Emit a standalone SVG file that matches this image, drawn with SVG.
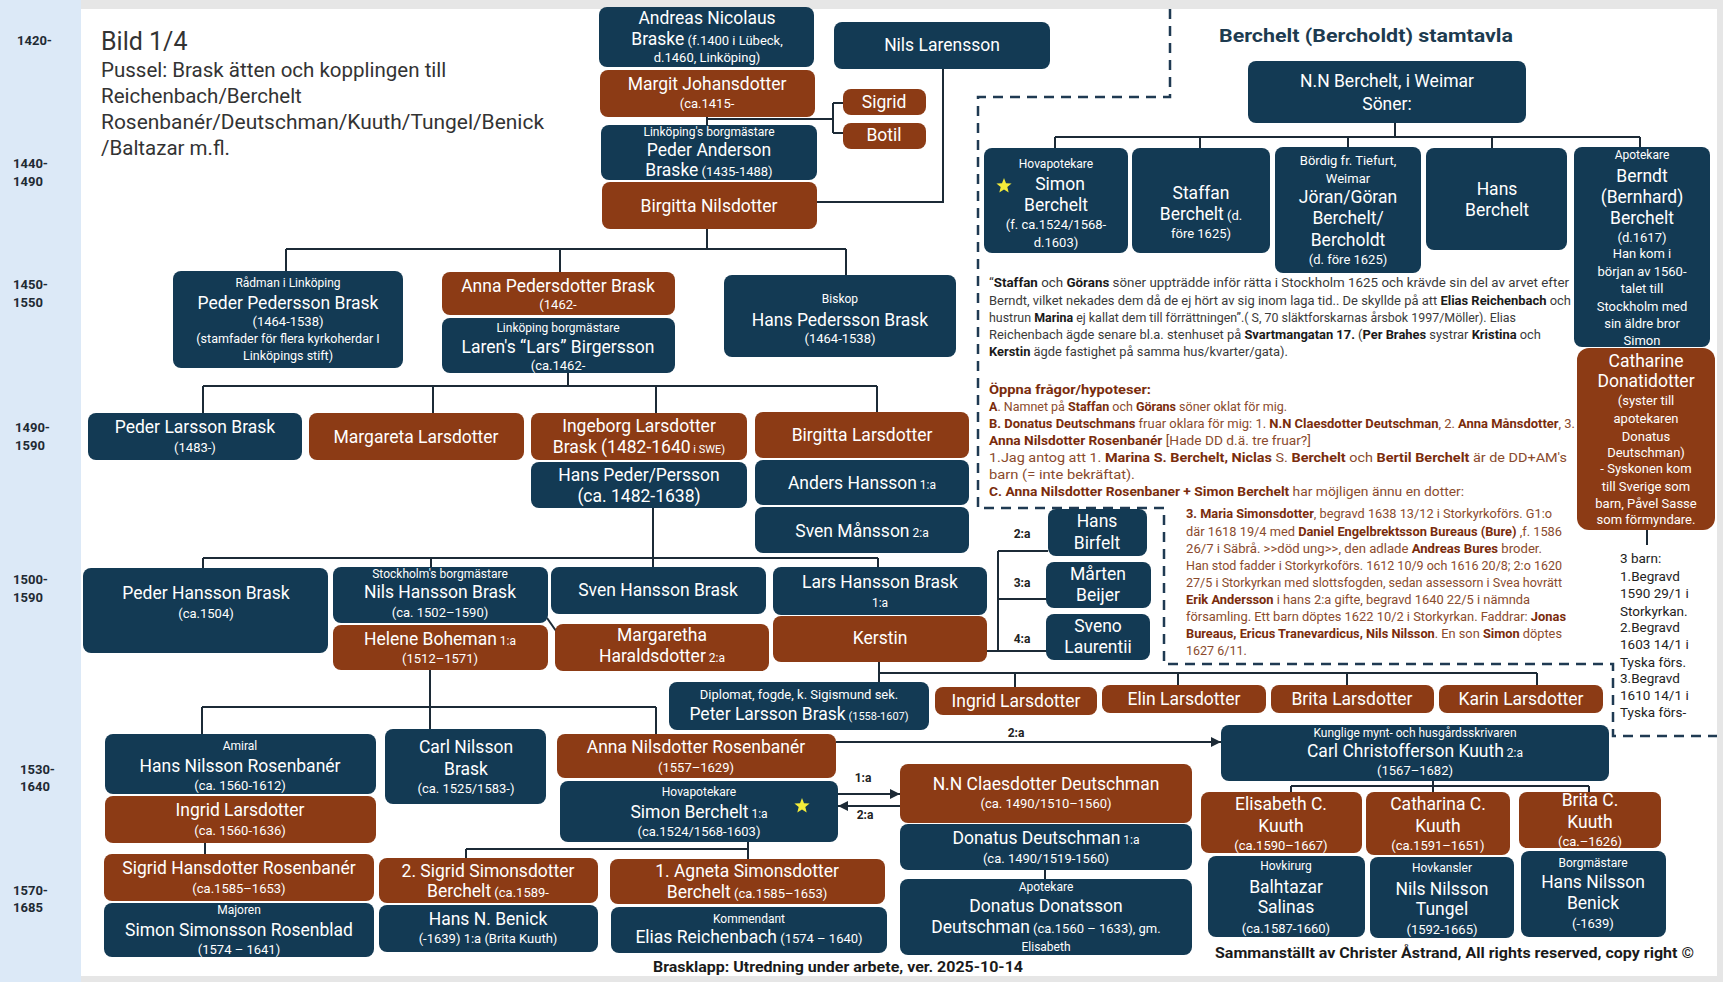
<svg xmlns="http://www.w3.org/2000/svg" width="1723" height="982" viewBox="0 0 1723 982">
<defs>
<style>
text{font-family:Roboto,"Liberation Sans",Arial,sans-serif}
.w{fill:#fff;text-anchor:middle}
.nm{font-size:17.5px}
.sm{font-size:12px}
.dt{font-size:13px}
.xs{font-size:11.5px}
rect.n{fill:#133a54;rx:8px;ry:8px}
rect.b{fill:#8c3b15;rx:8px;ry:8px}
.ln{stroke:#1c2a36;stroke-width:2;fill:none}
.dash{stroke:#1f3a52;stroke-width:2.5;stroke-dasharray:10 7;fill:none}
.tl{font-size:13px;font-weight:bold;fill:#1f2a33}
.lbl{font-size:12px;font-weight:bold;fill:#222;text-anchor:middle}
.ttl{fill:#333;font-weight:400}
.note{font-size:12.5px;fill:#3a3a3a}
.nb{font-weight:bold;fill:#1a1a1a}
.br{font-size:12.5px;fill:#8a4a2c}
.brb{font-weight:bold;fill:#7a2c0c}
.barn{font-size:13.5px;fill:#222}
.foot{font-size:15.5px;font-weight:bold;fill:#1a1a1a}
</style>
<marker id="arr" viewBox="0 0 10 10" refX="10" refY="5" markerWidth="10" markerHeight="10" markerUnits="userSpaceOnUse" orient="auto"><path d="M0,0 L10,5 L0,10 z" fill="#1c2a36"/></marker>
<polygon id="star" points="0,-8 2,-2.8 7.6,-2.5 3.3,1.1 4.7,6.5 0,3.4 -4.7,6.5 -3.3,1.1 -7.6,-2.5 -2,-2.8" fill="#f3ec3a"/>
</defs>

<!-- background -->
<rect x="0" y="0" width="1723" height="982" fill="#e6e6e6"/>
<rect x="0" y="0" width="81" height="982" fill="#dce9f7"/>
<rect x="81" y="9" width="1636" height="967" fill="#ffffff"/>

<!-- timeline -->
<g id="timeline">
<text class="tl" x="17" y="45">1420-</text>
<text class="tl" x="13" y="168">1440-</text><text class="tl" x="13" y="186">1490</text>
<text class="tl" x="13" y="289">1450-</text><text class="tl" x="13" y="307">1550</text>
<text class="tl" x="15" y="432">1490-</text><text class="tl" x="15" y="450">1590</text>
<text class="tl" x="13" y="584">1500-</text><text class="tl" x="13" y="602">1590</text>
<text class="tl" x="20" y="774">1530-</text><text class="tl" x="20" y="791">1640</text>
<text class="tl" x="13" y="895">1570-</text><text class="tl" x="13" y="912">1685</text>
</g>

<!-- title -->
<g id="title">
<text class="ttl" x="101" y="50" font-size="25">Bild 1/4</text>
<text class="ttl" x="101" y="77" font-size="20.5">Pussel: Brask ätten och kopplingen till</text>
<text class="ttl" x="101" y="103" font-size="20.5">Reichenbach/Berchelt</text>
<text class="ttl" x="101" y="129" font-size="20.5" textLength="443" lengthAdjust="spacingAndGlyphs">Rosenbanér/Deutschman/Kuuth/Tungel/Benick</text>
<text class="ttl" x="101" y="155" font-size="20.5">/Baltazar m.fl.</text>
</g>

<!-- dashed frame -->
<path class="dash" d="M1170,9 V97 H978 V508 H1164 V664 H1613 V736 H1717"/>

<!-- connectors -->
<g id="connectors">
<path class="ln" d="M707,117 V125 M707,119 H833 M833,103 V133 M833,103 H843 M833,133 H843"/>
<path class="ln" d="M943,69 V202 H817"/>
<path class="ln" d="M707,229 V249 M286,249 H846 M286,249 V271 M560,249 V272 M846,249 V275"/>
<path class="ln" d="M568,373 V386 M203,386 H877 M203,386 V413 M433,386 V413 M656,386 V413 M877,386 V412"/>
<path class="ln" d="M653,508 V567 M203,558 H878 M203,558 V568 M431,558 V567 M878,558 V567"/>
<path class="ln" d="M547,618 L568,648" stroke-width="1.6"/>
<path class="ln" d="M987,651 H1046 M998,551 V651 M998,551 H1048 M998,599 H1046"/>
<path class="ln" d="M879,662 V682 M879,673 H1537 M1015,673 V687 M1178,673 V685 M1347,673 V685 M1537,673 V685"/>
<path class="ln" d="M430,670 V729 M202,707 H656 M202,707 V734 M656,707 V734"/>
<path class="ln" d="M836,742 H1221" marker-end="url(#arr)"/>
<path class="ln" d="M838,794 H900" marker-end="url(#arr)"/>
<path class="ln" d="M900,806 H838" marker-end="url(#arr)"/>
<path class="ln" d="M748,842 V859 M466,849 H748 M466,849 V858"/>
<path class="ln" d="M205,843 V854"/>
<path class="ln" d="M1045,870 V879"/>
<path class="ln" d="M1433,781 V792 M1291,786 H1589 M1291,786 V792 M1589,786 V792"/>
<path class="ln" d="M1395,123 V137 M1055,137 H1640 M1055,137 V148 M1200,137 V148 M1348,137 V147 M1492,137 V148 M1640,137 V147"/>
<path class="ln" d="M1647,530 V545"/>
<text class="lbl" x="1022" y="538">2:a</text>
<text class="lbl" x="1022" y="587">3:a</text>
<text class="lbl" x="1022" y="643">4:a</text>
<text class="lbl" x="1016" y="737">2:a</text>
<text class="lbl" x="863" y="782">1:a</text>
<text class="lbl" x="865" y="819">2:a</text>
</g>

<!-- top nodes -->
<g id="andreas"><rect class="n" x="599" y="7" width="215" height="60"/>
<text class="w nm" x="707" y="24">Andreas Nicolaus</text>
<text class="w nm" x="707" y="45">Braske<tspan class="dt"> (f.1400 i Lübeck,</tspan></text>
<text class="w dt" x="707" y="62">d.1460, Linköping)</text></g>
<g id="margit"><rect class="b" x="600" y="70" width="215" height="47"/>
<text class="w nm" x="707" y="90">Margit Johansdotter</text>
<text class="w dt" x="707" y="108">(ca.1415-</text></g>
<g id="peder_anderson"><rect class="n" x="601" y="125" width="216" height="55"/>
<text class="w sm" x="709" y="136">Linköping's borgmästare</text>
<text class="w nm" x="709" y="156">Peder Anderson</text>
<text class="w nm" x="709" y="176">Braske<tspan class="dt"> (1435-1488)</tspan></text></g>
<g id="birgitta_n"><rect class="b" x="602" y="182" width="215" height="47"/>
<text class="w nm" x="709" y="212">Birgitta Nilsdotter</text></g>
<g id="nils_larensson"><rect class="n" x="834" y="22" width="216" height="47"/>
<text class="w nm" x="942" y="51">Nils Larensson</text></g>
<g id="sigrid"><rect class="b" x="843" y="89" width="83" height="26"/>
<text class="w nm" x="884" y="108">Sigrid</text></g>
<g id="botil"><rect class="b" x="843" y="123" width="83" height="26"/>
<text class="w nm" x="884" y="141">Botil</text></g>

<!-- 1450-1550 -->
<g id="peder_pedersson"><rect class="n" x="173" y="271" width="230" height="97"/>
<text class="w sm" x="288" y="287">Rådman i Linköping</text>
<text class="w nm" x="288" y="309">Peder Pedersson Brask</text>
<text class="w dt" x="288" y="326">(1464-1538)</text>
<text class="w" x="288" y="343" font-size="12.5">(stamfader för flera kyrkoherdar I</text>
<text class="w" x="288" y="360" font-size="12.5">Linköpings stift)</text></g>
<g id="anna_pedersdotter"><rect class="b" x="442" y="272" width="233" height="43"/>
<text class="w nm" x="558" y="292">Anna Pedersdotter Brask</text>
<text class="w dt" x="558" y="309">(1462-</text></g>
<g id="laren"><rect class="n" x="442" y="318" width="233" height="55"/>
<text class="w sm" x="558" y="332">Linköping borgmästare</text>
<text class="w nm" x="558" y="353">Laren's “Lars” Birgersson</text>
<text class="w dt" x="558" y="370">(ca.1462-</text></g>
<g id="hans_pedersson"><rect class="n" x="724" y="275" width="232" height="82"/>
<text class="w sm" x="840" y="303">Biskop</text>
<text class="w nm" x="840" y="326">Hans Pedersson Brask</text>
<text class="w dt" x="840" y="343">(1464-1538)</text></g>

<!-- 1490-1590 -->
<g id="peder_larsson"><rect class="n" x="88" y="413" width="214" height="47"/>
<text class="w nm" x="195" y="433">Peder Larsson Brask</text>
<text class="w dt" x="195" y="452">(1483-)</text></g>
<g id="margareta_l"><rect class="b" x="309" y="413" width="215" height="47"/>
<text class="w nm" x="416" y="443">Margareta Larsdotter</text></g>
<g id="ingeborg"><rect class="b" x="531" y="413" width="216" height="47"/>
<text class="w nm" x="639" y="432">Ingeborg Larsdotter</text>
<text class="w nm" x="639" y="453">Brask (1482-1640<tspan font-size="11"> i SWE)</tspan></text></g>
<g id="hans_peder"><rect class="n" x="531" y="462" width="216" height="46"/>
<text class="w nm" x="639" y="481">Hans Peder/Persson</text>
<text class="w nm" x="639" y="502">(ca. 1482-1638)</text></g>
<g id="birgitta_l"><rect class="b" x="755" y="412" width="214" height="46"/>
<text class="w nm" x="862" y="441">Birgitta Larsdotter</text></g>
<g id="anders"><rect class="n" x="755" y="460" width="214" height="45"/>
<text class="w nm" x="862" y="489">Anders Hansson<tspan class="sm"> 1:a</tspan></text></g>
<g id="sven_mansson"><rect class="n" x="755" y="507" width="214" height="46"/>
<text class="w nm" x="862" y="537">Sven Månsson<tspan class="sm"> 2:a</tspan></text></g>

<!-- 1500-1590 -->
<g id="peder_hansson"><rect class="n" x="83" y="568" width="245" height="85"/>
<text class="w nm" x="206" y="599">Peder Hansson Brask</text>
<text class="w dt" x="206" y="618">(ca.1504)</text></g>
<g id="nils_hansson"><rect class="n" x="333" y="567" width="215" height="56"/>
<text class="w sm" x="440" y="578">Stockholm's borgmästare</text>
<text class="w nm" x="440" y="598">Nils Hansson Brask</text>
<text class="w dt" x="440" y="617">(ca. 1502–1590)</text></g>
<g id="helene"><rect class="b" x="333" y="625" width="215" height="45"/>
<text class="w nm" x="440" y="645">Helene Boheman<tspan class="sm"> 1:a</tspan></text>
<text class="w dt" x="440" y="663">(1512–1571)</text></g>
<g id="sven_hansson"><rect class="n" x="551" y="567" width="215" height="47"/>
<text class="w nm" x="658" y="596">Sven Hansson Brask</text></g>
<g id="margaretha_h"><rect class="b" x="555" y="624" width="214" height="47"/>
<text class="w nm" x="662" y="641">Margaretha</text>
<text class="w nm" x="662" y="662">Haraldsdotter<tspan class="sm"> 2:a</tspan></text></g>
<g id="lars_hansson"><rect class="n" x="773" y="567" width="214" height="48"/>
<text class="w nm" x="880" y="588">Lars Hansson Brask</text>
<text class="w sm" x="880" y="607">1:a</text></g>
<g id="kerstin"><rect class="b" x="773" y="616" width="214" height="46"/>
<text class="w nm" x="880" y="644">Kerstin</text></g>
<g id="hans_birfelt"><rect class="n" x="1048" y="509" width="99" height="47"/>
<text class="w nm" x="1097" y="527">Hans</text>
<text class="w nm" x="1097" y="549">Birfelt</text></g>
<g id="marten_beijer"><rect class="n" x="1046" y="562" width="105" height="46"/>
<text class="w nm" x="1098" y="580">Mårten</text>
<text class="w nm" x="1098" y="601">Beijer</text></g>
<g id="sveno"><rect class="n" x="1046" y="614" width="104" height="46"/>
<text class="w nm" x="1098" y="632">Sveno</text>
<text class="w nm" x="1098" y="653">Laurentii</text></g>

<!-- Kerstin children -->
<g id="peter_larsson"><rect class="n" x="669" y="682" width="260" height="48"/>
<text class="w dt" x="799" y="699">Diplomat, fogde, k. Sigismund sek.</text>
<text class="w nm" x="799" y="720">Peter Larsson Brask<tspan font-size="11"> (1558-1607)</tspan></text></g>
<g id="ingrid_l2"><rect class="b" x="935" y="687" width="162" height="28"/>
<text class="w nm" x="1016" y="707">Ingrid Larsdotter</text></g>
<g id="elin"><rect class="b" x="1102" y="685" width="164" height="28"/>
<text class="w nm" x="1184" y="705">Elin Larsdotter</text></g>
<g id="brita_l"><rect class="b" x="1271" y="685" width="163" height="28"/>
<text class="w nm" x="1352" y="705">Brita Larsdotter</text></g>
<g id="karin"><rect class="b" x="1439" y="685" width="164" height="28"/>
<text class="w nm" x="1521" y="705">Karin Larsdotter</text></g>

<!-- 1530-1640 -->
<g id="hans_nilsson_r"><rect class="n" x="105" y="734" width="271" height="60"/>
<text class="w sm" x="240" y="750">Amiral</text>
<text class="w nm" x="240" y="772">Hans Nilsson Rosenbanér</text>
<text class="w dt" x="240" y="790">(ca. 1560-1612)</text></g>
<g id="ingrid_l"><rect class="b" x="105" y="796" width="271" height="47"/>
<text class="w nm" x="240" y="816">Ingrid Larsdotter</text>
<text class="w dt" x="240" y="835">(ca. 1560-1636)</text></g>
<g id="carl_nilsson"><rect class="n" x="385" y="729" width="161" height="75"/>
<text class="w nm" x="466" y="753">Carl Nilsson</text>
<text class="w nm" x="466" y="775">Brask</text>
<text class="w dt" x="466" y="793">(ca. 1525/1583-)</text></g>
<g id="anna_nilsdotter"><rect class="b" x="557" y="734" width="279" height="44"/>
<text class="w nm" x="696" y="753">Anna Nilsdotter Rosenbanér</text>
<text class="w dt" x="696" y="772">(1557–1629)</text></g>
<g id="simon_berchelt"><rect class="n" x="560" y="781" width="278" height="61"/>
<text class="w sm" x="699" y="796">Hovapotekare</text>
<text class="w nm" x="699" y="818">Simon Berchelt<tspan class="sm"> 1:a</tspan></text>
<text class="w dt" x="699" y="836">(ca.1524/1568-1603)</text>
<use href="#star" x="802" y="806"/></g>
<g id="nn_claesdotter"><rect class="b" x="900" y="764" width="292" height="59"/>
<text class="w nm" x="1046" y="790">N.N Claesdotter Deutschman</text>
<text class="w dt" x="1046" y="808">(ca. 1490/1510–1560)</text></g>
<g id="donatus"><rect class="n" x="900" y="824" width="292" height="46"/>
<text class="w nm" x="1046" y="844">Donatus Deutschman<tspan class="sm"> 1:a</tspan></text>
<text class="w dt" x="1046" y="863">(ca. 1490/1519-1560)</text></g>
<g id="donatus_donatsson"><rect class="n" x="900" y="879" width="292" height="76"/>
<text class="w sm" x="1046" y="891">Apotekare</text>
<text class="w nm" x="1046" y="912">Donatus Donatsson</text>
<text class="w nm" x="1046" y="933">Deutschman<tspan class="dt"> (ca.1560 – 1633), gm.</tspan></text>
<text class="w sm" x="1046" y="951">Elisabeth</text></g>
<g id="carl_kuuth"><rect class="n" x="1221" y="725" width="388" height="56"/>
<text class="w sm" x="1415" y="737">Kunglige mynt- och husgårdsskrivaren</text>
<text class="w nm" x="1415" y="757">Carl Christofferson Kuuth<tspan class="sm"> 2:a</tspan></text>
<text class="w dt" x="1415" y="775">(1567–1682)</text></g>

<!-- 1570-1685 -->
<g id="sigrid_h"><rect class="b" x="104" y="854" width="270" height="47"/>
<text class="w nm" x="239" y="874">Sigrid Hansdotter Rosenbanér</text>
<text class="w dt" x="239" y="893">(ca.1585–1653)</text></g>
<g id="simon_rosenblad"><rect class="n" x="104" y="903" width="270" height="54"/>
<text class="w sm" x="239" y="914">Majoren</text>
<text class="w nm" x="239" y="936">Simon Simonsson Rosenblad</text>
<text class="w dt" x="239" y="954">(1574 – 1641)</text></g>
<g id="sigrid_s"><rect class="b" x="379" y="858" width="219" height="45"/>
<text class="w nm" x="488" y="877">2. Sigrid Simonsdotter</text>
<text class="w nm" x="488" y="897">Berchelt<tspan class="dt"> (ca.1589-</tspan></text></g>
<g id="hans_benick"><rect class="n" x="379" y="905" width="219" height="47"/>
<text class="w nm" x="488" y="925">Hans N. Benick</text>
<text class="w dt" x="488" y="943">(-1639)  1:a (Brita Kuuth)</text></g>
<g id="agneta"><rect class="b" x="610" y="859" width="275" height="45"/>
<text class="w nm" x="747" y="877">1. Agneta Simonsdotter</text>
<text class="w nm" x="747" y="898">Berchelt<tspan class="dt"> (ca.1585–1653)</tspan></text></g>
<g id="elias"><rect class="n" x="611" y="907" width="276" height="46"/>
<text class="w sm" x="749" y="923">Kommendant</text>
<text class="w nm" x="749" y="943">Elias Reichenbach<tspan class="dt"> (1574 – 1640)</tspan></text></g>
<g id="elisabeth_k"><rect class="b" x="1201" y="792" width="161" height="61"/>
<text class="w nm" x="1281" y="810">Elisabeth C.</text>
<text class="w nm" x="1281" y="832">Kuuth</text>
<text class="w dt" x="1281" y="850">(ca.1590–1667)</text></g>
<g id="catharina_k"><rect class="b" x="1366" y="792" width="144" height="63"/>
<text class="w nm" x="1438" y="810">Catharina C.</text>
<text class="w nm" x="1438" y="832">Kuuth</text>
<text class="w dt" x="1438" y="850">(ca.1591–1651)</text></g>
<g id="brita_k"><rect class="b" x="1519" y="792" width="142" height="56"/>
<text class="w nm" x="1590" y="806">Brita C.</text>
<text class="w nm" x="1590" y="828">Kuuth</text>
<text class="w dt" x="1590" y="846">(ca.–1626)</text></g>
<g id="balhtazar"><rect class="n" x="1208" y="856" width="157" height="81"/>
<text class="w sm" x="1286" y="870">Hovkirurg</text>
<text class="w nm" x="1286" y="893">Balhtazar</text>
<text class="w nm" x="1286" y="913">Salinas</text>
<text class="w dt" x="1286" y="933">(ca.1587-1660)</text></g>
<g id="tungel"><rect class="n" x="1370" y="857" width="144" height="81"/>
<text class="w sm" x="1442" y="872">Hovkansler</text>
<text class="w nm" x="1442" y="895">Nils Nilsson</text>
<text class="w nm" x="1442" y="915">Tungel</text>
<text class="w dt" x="1442" y="934">(1592-1665)</text></g>
<g id="benick"><rect class="n" x="1521" y="851" width="145" height="86"/>
<text class="w sm" x="1593" y="867">Borgmästare</text>
<text class="w nm" x="1593" y="888">Hans Nilsson</text>
<text class="w nm" x="1593" y="909">Benick</text>
<text class="w dt" x="1593" y="928">(-1639)</text></g>

<!-- Berchelt stamtavla -->
<text x="1219" y="42" font-size="18.5" font-weight="bold" fill="#1d3b50" textLength="294" lengthAdjust="spacingAndGlyphs">Berchelt (Bercholdt) stamtavla</text>
<g id="nn_berchelt"><rect class="n" x="1248" y="61" width="278" height="62"/>
<text class="w nm" x="1387" y="87">N.N Berchelt, i Weimar</text>
<text class="w nm" x="1387" y="110">Söner:</text></g>
<g id="simon_top"><rect class="n" x="984" y="148" width="144" height="105"/>
<text class="w sm" x="1056" y="168">Hovapotekare</text>
<text class="w nm" x="1060" y="190">Simon</text>
<text class="w nm" x="1056" y="211">Berchelt</text>
<text class="w dt" x="1056" y="229">(f. ca.1524/1568-</text>
<text class="w dt" x="1056" y="247">d.1603)</text>
<use href="#star" x="1004" y="186"/></g>
<g id="staffan"><rect class="n" x="1132" y="148" width="138" height="105"/>
<text class="w nm" x="1201" y="199">Staffan</text>
<text class="w nm" x="1201" y="220">Berchelt<tspan class="dt"> (d.</tspan></text>
<text class="w dt" x="1201" y="238">före 1625)</text></g>
<g id="joran"><rect class="n" x="1275" y="147" width="146" height="126"/>
<text class="w dt" x="1348" y="165">Bördig fr. Tiefurt,</text>
<text class="w dt" x="1348" y="183">Weimar</text>
<text class="w nm" x="1348" y="203">Jöran/Göran</text>
<text class="w nm" x="1348" y="224">Berchelt/</text>
<text class="w nm" x="1348" y="246">Bercholdt</text>
<text class="w dt" x="1348" y="264">(d. före 1625)</text></g>
<g id="hans_berchelt"><rect class="n" x="1426" y="148" width="141" height="102"/>
<text class="w nm" x="1497" y="195">Hans</text>
<text class="w nm" x="1497" y="216">Berchelt</text></g>
<g id="berndt"><rect class="n" x="1574" y="147" width="136" height="200"/>
<text class="w sm" x="1642" y="159">Apotekare</text>
<text class="w nm" x="1642" y="182">Berndt</text>
<text class="w nm" x="1642" y="203">(Bernhard)</text>
<text class="w nm" x="1642" y="224">Berchelt</text>
<text class="w dt" x="1642" y="242">(d.1617)</text>
<text class="w dt" x="1642" y="258">Han kom i</text>
<text class="w dt" x="1642" y="276">början av 1560-</text>
<text class="w dt" x="1642" y="293">talet till</text>
<text class="w dt" x="1642" y="311">Stockholm med</text>
<text class="w dt" x="1642" y="328">sin äldre bror</text>
<text class="w dt" x="1642" y="345">Simon</text></g>
<g id="catharine"><rect class="b" x="1577" y="348" width="138" height="182" style="rx:12px;ry:12px"/>
<text class="w nm" x="1646" y="367">Catharine</text>
<text class="w nm" x="1646" y="387">Donatidotter</text>
<text class="w dt" x="1646" y="405">(syster till</text>
<text class="w dt" x="1646" y="423">apotekaren</text>
<text class="w dt" x="1646" y="441">Donatus</text>
<text class="w dt" x="1646" y="457">Deutschman)</text>
<text class="w dt" x="1646" y="473">- Syskonen  kom</text>
<text class="w dt" x="1646" y="491">till Sverige som</text>
<text class="w dt" x="1646" y="508">barn, Påvel Sasse</text>
<text class="w dt" x="1646" y="524">som förmyndare.</text></g>

<!-- notes -->
<g id="notes">
<text class="note" x="989" y="287" textLength="580" lengthAdjust="spacingAndGlyphs">“<tspan class="nb">Staffan</tspan> och <tspan class="nb">Görans</tspan> söner uppträdde inför rätta i Stockholm 1625 och krävde sin del av arvet efter</text>
<text class="note" x="989" y="304.5" textLength="582" lengthAdjust="spacingAndGlyphs">Berndt, vilket nekades dem då de ej hört av sig inom laga tid.. De skyllde på att <tspan class="nb">Elias Reichenbach</tspan> och</text>
<text class="note" x="989" y="322" textLength="527" lengthAdjust="spacingAndGlyphs">hustrun <tspan class="nb">Marina</tspan> ej kallat dem till förrättningen”.( S, 70 släktforskarnas årsbok 1997/Möller). Elias</text>
<text class="note" x="989" y="339" textLength="552" lengthAdjust="spacingAndGlyphs">Reichenbach ägde senare bl.a. stenhuset på <tspan class="nb">Svartmangatan 17.</tspan> (<tspan class="nb">Per Brahes</tspan> systrar <tspan class="nb">Kristina</tspan> och</text>
<text class="note" x="989" y="356" textLength="299" lengthAdjust="spacingAndGlyphs"><tspan class="nb">Kerstin</tspan> ägde fastighet på samma hus/kvarter/gata).</text>

<text class="br" x="989" y="394" textLength="162" lengthAdjust="spacingAndGlyphs"><tspan class="brb">Öppna frågor/hypoteser:</tspan></text>
<text class="br" x="989" y="411" textLength="298" lengthAdjust="spacingAndGlyphs"><tspan class="brb">A</tspan>. Namnet på <tspan class="brb">Staffan</tspan> och <tspan class="brb">Görans</tspan> söner oklat för mig.</text>
<text class="br" x="989" y="428" textLength="586" lengthAdjust="spacingAndGlyphs"><tspan class="brb">B. Donatus  Deutschmans</tspan> fruar oklara för mig: 1. <tspan class="brb">N.N Claesdotter Deutschman</tspan>, 2. <tspan class="brb">Anna Månsdotter</tspan>, 3.</text>
<text class="br" x="989" y="445" textLength="322" lengthAdjust="spacingAndGlyphs"><tspan class="brb">Anna Nilsdotter Rosenbanér</tspan> [Hade DD d.ä. tre fruar?]</text>
<text class="br" x="989" y="462" textLength="578" lengthAdjust="spacingAndGlyphs">1.Jag antog att  1. <tspan class="brb">Marina S. Berchelt, Niclas</tspan> S. <tspan class="brb">Berchelt</tspan> och <tspan class="brb">Bertil Berchelt</tspan> är de DD+AM's</text>
<text class="br" x="989" y="479" textLength="146" lengthAdjust="spacingAndGlyphs">barn (= inte bekräftat).</text>
<text class="br" x="989" y="496" textLength="475" lengthAdjust="spacingAndGlyphs"><tspan class="brb">C. Anna Nilsdotter Rosenbaner + Simon Berchelt</tspan> har möjligen ännu en dotter:</text>

<text class="br" x="1186" y="518" textLength="366" lengthAdjust="spacingAndGlyphs"><tspan class="brb">3. Maria Simonsdotter</tspan>, begravd 1638 13/12 i Storkyrkoförs. G1:o</text>
<text class="br" x="1186" y="536" textLength="376" lengthAdjust="spacingAndGlyphs">där 1618 19/4 med <tspan class="brb">Daniel Engelbrektsson Bureaus (Bure)</tspan> ,f. 1586</text>
<text class="br" x="1186" y="553" textLength="356" lengthAdjust="spacingAndGlyphs">26/7 i Säbrå. &gt;&gt;död ung&gt;&gt;, den adlade <tspan class="brb">Andreas Bures</tspan> broder.</text>
<text class="br" x="1186" y="570" textLength="376" lengthAdjust="spacingAndGlyphs">Han stod fadder i Storkyrkoförs. 1612 10/9 och 1616 20/8; 2:o 1620</text>
<text class="br" x="1186" y="587" textLength="376" lengthAdjust="spacingAndGlyphs">27/5 i Storkyrkan med slottsfogden, sedan assessorn i Svea hovrätt</text>
<text class="br" x="1186" y="604" textLength="344" lengthAdjust="spacingAndGlyphs"><tspan class="brb">Erik Andersson</tspan> i hans 2:a gifte, begravd 1640 22/5 i nämnda</text>
<text class="br" x="1186" y="621" textLength="380" lengthAdjust="spacingAndGlyphs">församling. Ett barn döptes 1622 10/2 i Storkyrkan. Faddrar: <tspan class="brb">Jonas</tspan></text>
<text class="br" x="1186" y="638" textLength="376" lengthAdjust="spacingAndGlyphs"><tspan class="brb">Bureaus, Ericus Tranevardicus, Nils Nilsson</tspan>. En son <tspan class="brb">Simon</tspan> döptes</text>
<text class="br" x="1186" y="655">1627 6/11.</text>

<text class="barn" x="1620" y="563">3 barn:</text>
<text class="barn" x="1620" y="581">1.Begravd</text>
<text class="barn" x="1620" y="598">1590 29/1 i</text>
<text class="barn" x="1620" y="616">Storkyrkan.</text>
<text class="barn" x="1620" y="632">2.Begravd</text>
<text class="barn" x="1620" y="649">1603 14/1 i</text>
<text class="barn" x="1620" y="667">Tyska förs.</text>
<text class="barn" x="1620" y="683">3.Begravd</text>
<text class="barn" x="1620" y="700">1610 14/1 i</text>
<text class="barn" x="1620" y="717">Tyska förs-</text>
</g>

<!-- footers -->
<text class="foot" x="653" y="972" textLength="370" lengthAdjust="spacingAndGlyphs">Brasklapp: Utredning under arbete, ver. 2025-10-14</text>
<text class="foot" x="1215" y="958" textLength="479" lengthAdjust="spacingAndGlyphs">Sammanställt av Christer Åstrand, All rights reserved, copy right ©</text>
</svg>
